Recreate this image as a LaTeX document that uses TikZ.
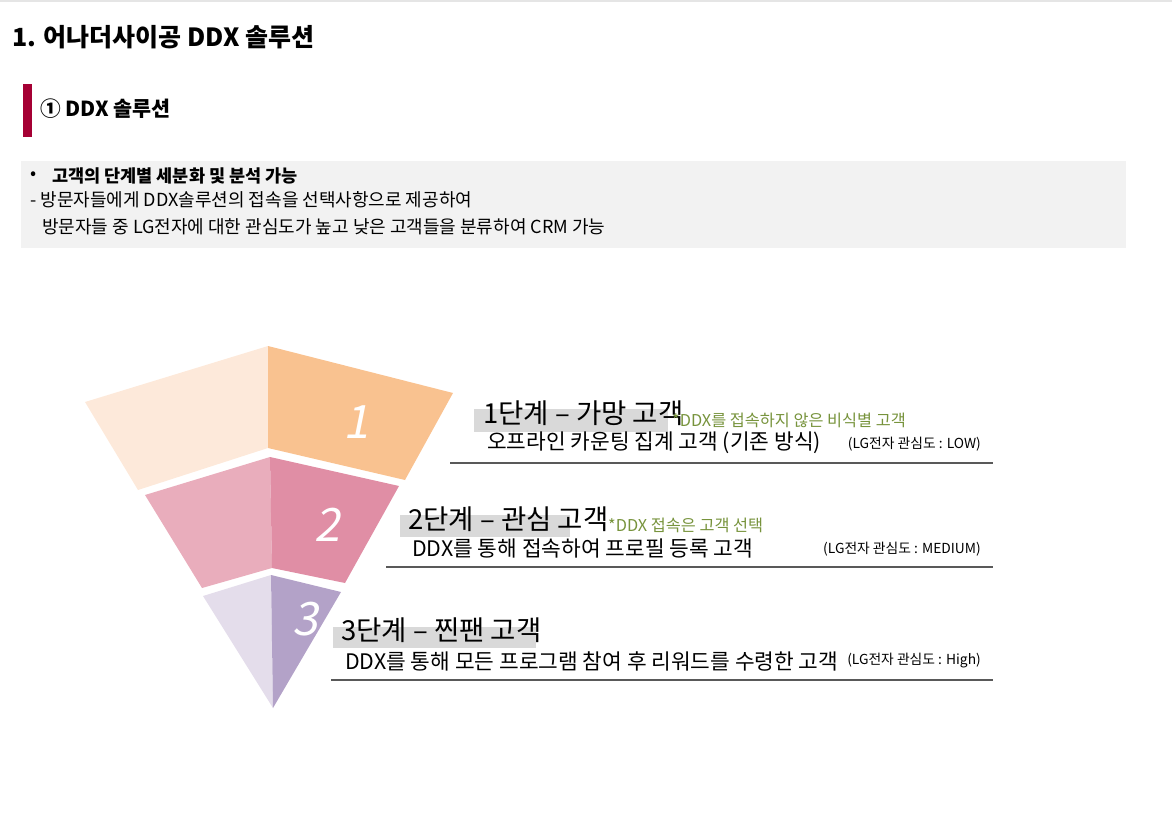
\documentclass[tikz,border=0pt]{standalone}
\usepackage{fontspec}
\setmainfont{Noto Sans CJK KR}
\definecolor{lgred}{HTML}{A50034}
\definecolor{boxgray}{HTML}{F2F2F2}
\definecolor{hlgray}{HTML}{D9D9D9}
\definecolor{rulegray}{HTML}{595959}
\definecolor{notegreen}{HTML}{77933C}
\definecolor{oneL}{HTML}{FDE9DA}
\definecolor{oneR}{HTML}{F9C290}
\definecolor{twoL}{HTML}{E9ADBC}
\definecolor{twoR}{HTML}{E08EA5}
\definecolor{threeL}{HTML}{E4DDEB}
\definecolor{threeR}{HTML}{B3A2C8}
\tikzset{
  head/.style={anchor=west, inner sep=0pt, font=\fontsize{27.5}{31}\selectfont},
  desc/.style={anchor=west, inner sep=0pt, font=\fontsize{21.4}{25}\selectfont},
  note/.style={anchor=west, inner sep=0pt, text=notegreen, font=\fontsize{16.3}{19}\selectfont},
  level/.style={anchor=east, inner sep=0pt, font=\fontsize{13.8}{16}\selectfont},
  num/.style={text=white, inner sep=0pt, xslant=0.2, font=\fontsize{46}{50}\selectfont},
  body/.style={anchor=west, inner sep=0pt, font=\fontsize{18}{21}\selectfont},
  rule/.style={rulegray, line width=1.2pt}
}
\begin{document}
\begin{tikzpicture}[x=1pt, y=-1pt]
\useasboundingbox (0,0) rectangle (1172,813);
\draw[line width=2pt, black!10] (0,1)--(1172,1);
\node[anchor=west, inner sep=0pt, font=\bfseries\fontsize{25}{29}\selectfont] (title) at (12,37) {1. 어나더사이공 DDX 솔루션};
\fill[lgred] (23,84) rectangle (32,137);
\node[anchor=west, inner sep=0pt, font=\bfseries\fontsize{20.7}{24}\selectfont] (sub) at (40,109) {① DDX 솔루션};
% summary box
\fill[boxgray] (21,161) rectangle (1126,248);
\node[body] (dot) at (30,176) {•};
\node[body, font=\bfseries\fontsize{17.5}{20}\selectfont] (L1) at (52,176) {고객의 단계별 세분화 및 분석 가능};
\node[body] (L2) at (30,200) {- 방문자들에게 DDX솔루션의 접속을 선택사항으로 제공하여};
\node[body] (L3) at (42,227) {방문자들 중 LG전자에 대한 관심도가 높고 낮은 고객들을 분류하여 CRM 가능};
% funnel
\fill[oneL] (85,402) -- (268,346) -- (268,448) -- (138,490) -- cycle;
\fill[oneR] (268,346) -- (453,393) -- (405,480) -- (268,448) -- cycle;
\fill[twoL] (145,495) -- (270,457) -- (272,568) -- (202,588) -- cycle;
\fill[twoR] (270,457) -- (399,486) -- (345,583) -- (272,568) -- cycle;
\fill[threeL] (203,596) -- (271,575) -- (273,708) -- cycle;
\fill[threeR] (271,575) -- (341,592) -- (273,708) -- cycle;
\node[num] (N1) at (360,422) {1};
\node[num] (N2) at (331,525) {2};
\node[num] (N3) at (309,619) {3};
% stage 1
\fill[hlgray] (474,409) rectangle (668,432);
\node[head] (H1) at (483,413) {1단계 – 가망 고객};
\node[note] (G1) at (672,420) {*DDX를 접속하지 않은 비식별 고객};
\node[desc] (D1) at (487,443) {오프라인 카운팅 집계 고객 (기존 방식)};
\node[level] (V1) at (981,444) {(LG전자 관심도 : LOW)};
\draw[rule] (450,463)--(993,463);
% stage 2
\fill[hlgray] (400,515) rectangle (570,537);
\node[head] (H2) at (408,519) {2단계 – 관심 고객};
\node[note] (G2) at (608,525) {*DDX 접속은 고객 선택};
\node[desc] (D2) at (412,548) {DDX를 통해 접속하여 프로필 등록 고객};
\node[level] (V2) at (981,549) {(LG전자 관심도 : MEDIUM)};
\draw[rule] (386,567)--(993,567);
% stage 3
\fill[hlgray] (333,627) rectangle (536,648);
\node[head] (H3) at (341,630) {3단계 – 찐팬 고객};
\node[desc] (D3) at (345,661) {DDX를 통해 모든 프로그램 참여 후 리워드를 수령한 고객};
\node[level] (V3) at (981,661) {(LG전자 관심도 : High)};
\draw[rule] (331,680)--(993,680);
\end{tikzpicture}
\end{document}
